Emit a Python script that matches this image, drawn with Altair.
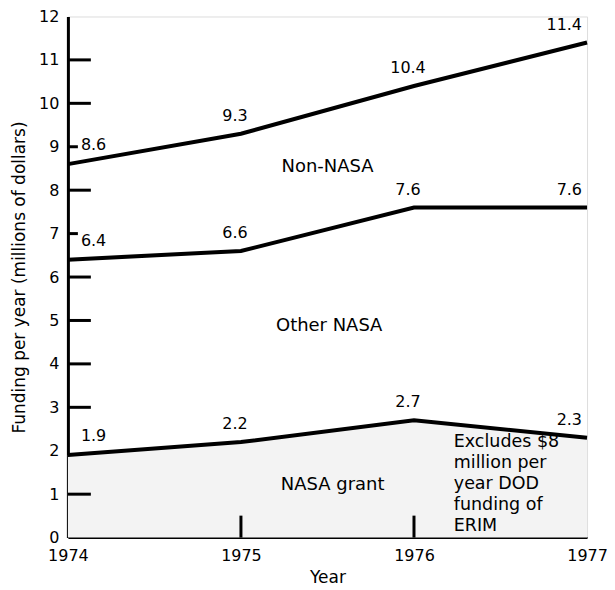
import altair as alt
import pandas as pd

years = [1974, 1975, 1976, 1977]
non_nasa = [8.6, 9.3, 10.4, 11.4]
other_nasa = [6.4, 6.6, 7.6, 7.6]
nasa_grant = [1.9, 2.2, 2.7, 2.3]
value_labels_top = ["8.6", "9.3", "10.4", "11.4"]
value_labels_mid = ["6.4", "6.6", "7.6", "7.6"]
value_labels_low = ["1.9", "2.2", "2.7", "2.3"]

long_ticks = [1, 3, 4, 5, 6, 8, 10, 11]
short_ticks = [7, 9]
x_inner_ticks = [1975, 1976]

region_names = ["Non-NASA", "Other NASA", "NASA grant"]
region_x = [1975.5, 1975.51, 1975.53]
region_y = [8.53, 4.87, 1.2]

note_lines = ["Excludes $8", "million per", "year DOD", "funding of", "ERIM"]
note_x = 1976.23
note_y = 2.2

FONT = "DejaVu Sans"
W, H = 520, 522

rows = []
for name, vals, labs in [("top", non_nasa, value_labels_top),
                         ("mid", other_nasa, value_labels_mid),
                         ("low", nasa_grant, value_labels_low)]:
    for i, (yr, v, lb) in enumerate(zip(years, vals, labs)):
        rows.append({"series": name, "year": yr, "value": v, "label": lb, "idx": i})
df = pd.DataFrame(rows)
low_df = df[df.series == "low"]

xs = alt.X("year:Q", scale=alt.Scale(domain=[1974, 1977], nice=False, zero=False),
           axis=alt.Axis(values=years, format="d", title="Year", ticks=False, grid=False,
                         domainColor="black", domainWidth=2, labelFontSize=16,
                         labelFont=FONT, labelColor="black", labelPadding=10,
                         titleFont=FONT, titleFontSize=17, titleFontWeight="normal",
                         titleColor="black", titlePadding=6, labelFlush=False))
ys = alt.Y("value:Q", scale=alt.Scale(domain=[0, 12], nice=False),
           axis=alt.Axis(values=list(range(0, 13)), title="Funding per year (millions of dollars)",
                         ticks=False, grid=False, domainColor="black", domainWidth=3,
                         labelFontSize=16, labelFont=FONT, labelColor="black", labelPadding=9,
                         titleFont=FONT, titleFontSize=17, titleFontWeight="normal",
                         titleColor="black", titlePadding=10))

base = alt.Chart(df)

area = alt.Chart(low_df).mark_area(color="#f3f3f3", opacity=1).encode(x=xs, y=ys)

lines = base.mark_line(color="black", strokeWidth=4, strokeJoin="miter").encode(
    x=xs, y=ys, detail="series:N")

first_lab = base.transform_filter("datum.idx == 0").mark_text(
    align="left", baseline="middle", dx=13, dy=-19, font=FONT, fontSize=16, color="black"
).encode(x=xs, y=ys, text="label:N")
mid_lab = base.transform_filter("datum.idx == 1 || datum.idx == 2").mark_text(
    align="center", baseline="middle", dx=-6, dy=-18, font=FONT, fontSize=16, color="black"
).encode(x=xs, y=ys, text="label:N")
last_lab = base.transform_filter("datum.idx == 3").mark_text(
    align="right", baseline="middle", dx=-5, dy=-18, font=FONT, fontSize=16, color="black"
).encode(x=xs, y=ys, text="label:N")

ltick = alt.Chart(pd.DataFrame({"value": long_ticks})).mark_rule(
    color="black", strokeWidth=3).encode(x=alt.value(0), x2=alt.value(23), y=ys)
stick = alt.Chart(pd.DataFrame({"value": short_ticks})).mark_rule(
    color="black", strokeWidth=3).encode(x=alt.value(0), x2=alt.value(10), y=ys)
xtick = alt.Chart(pd.DataFrame({"year": x_inner_ticks})).mark_rule(
    color="black", strokeWidth=3).encode(x=xs, y=alt.value(H), y2=alt.value(H - 22))

regions = alt.Chart(pd.DataFrame({"year": region_x, "value": region_y, "name": region_names})).mark_text(
    align="center", baseline="middle", font=FONT, fontSize=18, color="black"
).encode(x=xs, y=ys, text="name:N")

note = alt.Chart(pd.DataFrame({"year": [note_x], "value": [note_y], "t": [note_lines]})).mark_text(
    align="left", baseline="middle", font=FONT, fontSize=17.5, color="black", lineHeight=21
).encode(x=xs, y=ys, text="t")

chart = alt.layer(area, lines, ltick, stick, xtick, first_lab, mid_lab, last_lab, regions, note).properties(
    width=W, height=H,
    autosize=alt.AutoSizeParams(type="none"),
    padding={"left": 60, "top": 8, "right": 20, "bottom": 50},
).configure_view(stroke="black", strokeWidth=2).configure(background="white")

chart.save("out.html", embed_options={"renderer": "svg", "actions": False})
